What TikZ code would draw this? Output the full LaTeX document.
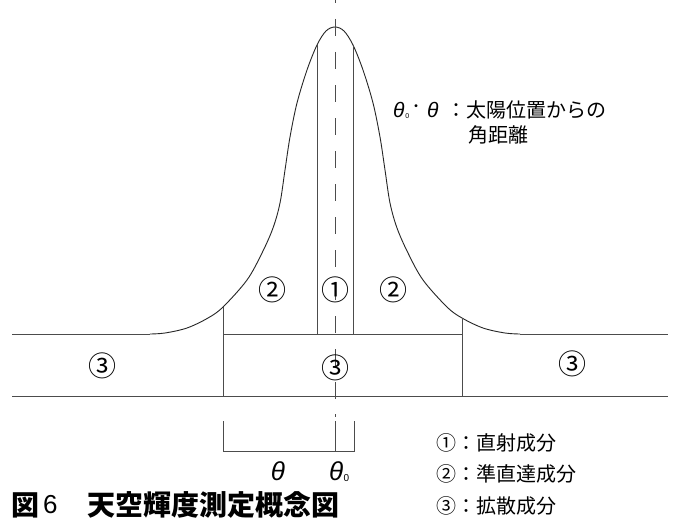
\documentclass[tikz,border=0pt]{standalone}
\usepackage{fontspec}
\newfontfamily\jp{Noto Sans CJK JP}
\newfontfamily\gr{Liberation Sans}
\begin{document}
\begin{tikzpicture}[x=1pt,y=-1pt,
  ln/.style={draw=black!70, line width=0.9pt},
  crv/.style={draw=black!85, line width=0.9pt},
  cl/.style={draw=black!70, line width=0.9pt, dash pattern=on 17pt off 16pt, dash phase=0pt},
  num/.style={inner sep=0pt, font=\jp\fontsize{28}{28}\selectfont},
  leg/.style={inner sep=0pt, anchor=west, font=\jp\fontsize{20}{20}\selectfont},
  th/.style={inner sep=0pt, font=\gr\itshape\fontsize{26}{26}\selectfont}]
\useasboundingbox (0,0) rectangle (674,519);
\fill[white] (0,0) rectangle (674,519);
% key points
\coordinate (peak) at (335,27);
\coordinate (lflat) at (150,334);
\coordinate (rflat) at (520,334);
\coordinate (lv) at (223,307);
\coordinate (rv) at (462,318);
\coordinate (s1) at (317,45);
\coordinate (s2) at (353,45);
% bell curve
\draw[crv] plot[smooth, tension=0.55] coordinates {(150,334) (165,333) (187,328) (208,318) (223,307) (247,280) (262,253) (273,228) (280,203) (285,170) (290,137) (297,103) (307,70) (317,45) (326,31) (335,27) (344,31) (353,45) (363,70) (373,103) (380,137) (385,170) (390,203) (397,228) (408,253) (423,280) (447,307) (462,318) (483,328) (505,333) (520,334)};
% horizontal lines
\coordinate (lt) at (12,334);
\coordinate (rt) at (668,334);
\coordinate (lb) at (12,396);
\coordinate (rb) at (668,396);
\draw[ln] (lt) -- (lflat);
\draw[ln] (rflat) -- (rt);
\draw[ln] (lb) -- (rb);
\draw[ln] (223,334) -- (462,334);
% verticals
\draw[ln] (lv) -- (223,396);
\draw[ln] (rv) -- (462,396);
\draw[ln] (s1) -- (317,334);
\draw[ln] (s2) -- (353,334);
% centre line
\coordinate (ctop) at (335,0);
\coordinate (cbot) at (335,405);
\draw[cl, dash phase=14pt] (ctop) -- (cbot);
\draw[ln] (335,414) -- (335,417);
% bracket
\coordinate (b1) at (223,421);
\coordinate (b2) at (354,421);
\coordinate (b3) at (335,421);
\draw[ln] (b1) -- (223,451) -- (354,451) -- (b2);
\draw[ln] (b3) -- (335,451);
% region labels
\node[num] (n2l) at (272,290) {②};
\node[num] (n1) at (335,290) {①};
\node[num] (n2r) at (393,290) {②};
\node[num] (n3l) at (102,366) {③};
\node[num] (n3c) at (335,368) {③};
\node[num] (n3r) at (572,364) {③};
% bracket labels
\node[th] (tha) at (278,471) {θ};
\node[th, anchor=west] (thb) at (329,471) {θ};
\node[inner sep=0pt, font=\gr\fontsize{10}{10}\selectfont, anchor=west] (thb0) at (thb.east) [yshift=-7pt] {0};
% top-right note
\node[inner sep=0pt, anchor=west, font=\gr\itshape\fontsize{21}{21}\selectfont] (t0) at (393,110) {θ};
\node[inner sep=0pt, anchor=west, font=\gr\fontsize{7}{7}\selectfont] (t0s) at (t0.east) [xshift=0.5pt, yshift=-6pt] {0};
\node[inner sep=0pt, font=\jp\fontsize{14}{14}\selectfont] (tdot) at (416,108) {・};
\node[inner sep=0pt, anchor=west, font=\gr\itshape\fontsize{21}{21}\selectfont] (t1) at (427,110) {θ};
\node[leg] (tt1) at (446,110) {：太陽位置からの};
\node[leg] (tt2) at (468,135) {角距離};
% legend
\node[leg] (l1) at (436,443) {①：直射成分};
\node[leg] (l2) at (436,474) {②：準直達成分};
\node[leg] (l3) at (436,506) {③：拡散成分};
% title
\node[inner sep=0pt, anchor=west, font=\jp\bfseries\fontsize{28}{28}\selectfont] (ti1) at (11,505) {図};
\node[inner sep=0pt, anchor=west, font=\gr\fontsize{26}{26}\selectfont] (ti2) at (43,505) {6};
\node[inner sep=0pt, anchor=west, font=\jp\bfseries\fontsize{28}{28}\selectfont] (ti3) at (87,505) {天空輝度測定概念図};
\end{tikzpicture}
\end{document}
